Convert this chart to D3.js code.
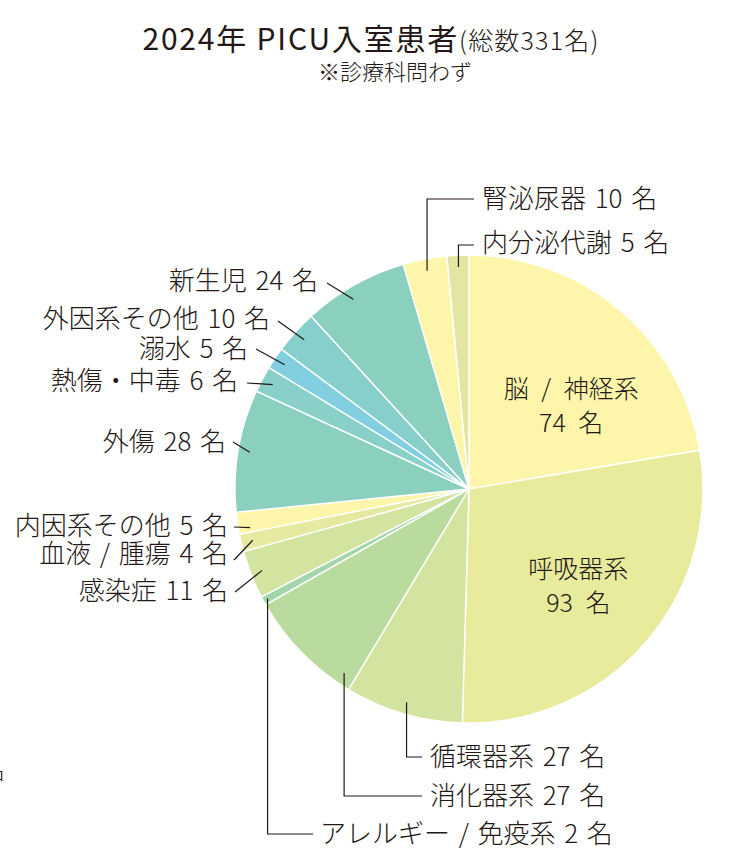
<!DOCTYPE html>
<html>
<head>
<meta charset="utf-8">
<script src="https://cdn.jsdelivr.net/npm/d3@7"></script>
<style>
  body { margin: 0; background: #fff; }
  svg text { font-family: "Noto Sans CJK JP", "Noto Sans", sans-serif; fill: #231815; white-space: pre; }
</style>
</head>
<body>
<div class="pie-chart-container"></div>
<script>
// data (clockwise from 12 o'clock)
const categories = ['脳 / 神経系', '呼吸器系', '循環器系', '消化器系', 'アレルギー / 免疫系', '感染症',
  '血液 / 腫瘍', '内因系その他', '外傷', '熱傷・中毒', '溺水', '外因系その他', '新生児', '腎泌尿器', '内分泌代謝'];
const patients = [74, 93, 27, 27, 2, 11, 4, 5, 28, 6, 5, 10, 24, 10, 5];
const sliceColors = ['#fdf6aa', '#e8eb9c', '#d3e4a0', '#b9dc9e', '#a3d5aa', '#d3e4a0', '#e6eaa0', '#fdf6aa',
  '#8bcfbf', '#88d0c8', '#82cfe2', '#86cfcb', '#8bcfbf', '#fdf6aa', '#e2e6a2'];
const insideLabels = ['脳 / 神経系', '呼吸器系'];

// label layout: text anchor point, and where the leader starts
const labelLayout = {
  '新生児':       {type: 'left', tx: 318, ty: 290, lx: 327, ly: 283, da: -2},
  '外因系その他': {type: 'left', tx: 270, ty: 328, lx: 278, ly: 321},
  '溺水':         {type: 'left', tx: 248, ty: 358, lx: 256, ly: 349},
  '熱傷・中毒':   {type: 'left', tx: 238, ty: 390, lx: 247, ly: 383},
  '外傷':         {type: 'left', tx: 226, ty: 451, lx: 233, ly: 442},
  '内因系その他': {type: 'left', tx: 228, ty: 535, lx: 234, ly: 527, da: -1.6},
  '血液 / 腫瘍':  {type: 'left', tx: 228, ty: 563, lx: 234, ly: 560},
  '感染症':       {type: 'left', tx: 228, ty: 600, lx: 235, ly: 592},
  '腎泌尿器':     {type: 'top', tx: 482, ty: 208, hy: 199, hx: 474},
  '内分泌代謝':   {type: 'top', tx: 482, ty: 252, hy: 245, hx: 474},
  '循環器系':     {type: 'bottom', tx: 430, ty: 766, hy: 757, hx: 422},
  '消化器系':     {type: 'bottom', tx: 430, ty: 805, hy: 796, hx: 422, da: -11.5},
  'アレルギー / 免疫系': {type: 'bottom', tx: 320, ty: 843, hy: 834, hx: 313, rf: 0.98}
};

const pieData = categories.map((c, i) => ({name: c, value: patients[i]}));
// wider spaces like the original typesetting
const spaced = (s, sp) => s.replace(/ /g, sp);

function setupCanvas(pieData) {
  const svg_width = 729;
  const svg_height = 868;
  const cx = 469, cy = 489, radius = 234;

  const svg = d3.select('.pie-chart-container').append('svg')
    .attr('width', svg_width).attr('height', svg_height);

  const color = d3.scaleOrdinal().domain(categories).range(sliceColors);
  const pie = d3.pie().value(d => d.value).sort(null);
  const arc = d3.arc().innerRadius(0).outerRadius(radius);
  const arcs = pie(pieData);

  const g = svg.append('g').attr('transform', `translate(${cx},${cy})`);

  g.selectAll('.slice')
    .data(arcs)
    .enter()
    .append('path')
    .attr('class', 'slice')
    .attr('d', arc)
    .style('fill', d => color(d.data.name))
    .style('stroke', '#fff')
    .style('stroke-width', 1.4);

  // point on the slice at its middle angle (plus tweak)
  function innerPoint(d, lay) {
    const a = (d.startAngle + d.endAngle) / 2 + (lay.da || 0) * Math.PI / 180;
    const r = radius * (lay.rf || 0.95);
    return [cx + Math.sin(a) * r, cy - Math.cos(a) * r];
  }

  // leaders + outside labels
  const outside = arcs.filter(d => labelLayout[d.data.name]);
  svg.selectAll('.leader')
    .data(outside)
    .enter()
    .append('path')
    .attr('class', 'leader')
    .attr('d', d => {
      const lay = labelLayout[d.data.name];
      const p = innerPoint(d, lay);
      if (lay.type === 'left') return `M${lay.lx},${lay.ly}L${p[0]},${p[1]}`;
      if (lay.type === 'top') return `M${lay.hx},${lay.hy}H${p[0]}V${p[1]}`;
      return `M${p[0]},${p[1]}V${lay.hy}H${lay.hx}`;
    })
    .style('fill', 'none')
    .style('stroke', '#231815')
    .style('stroke-width', 1.2);

  svg.selectAll('.out-label')
    .data(outside)
    .enter()
    .append('text')
    .attr('class', 'out-label')
    .attr('x', d => labelLayout[d.data.name].tx)
    .attr('y', d => labelLayout[d.data.name].ty)
    .attr('text-anchor', d => labelLayout[d.data.name].type === 'left' ? 'end' : 'start')
    .style('font-size', '26px')
    .style('font-weight', 300)
    .text(d => spaced(`${d.data.name} ${d.data.value} 名`, '\u2004'));

  // inside labels
  const insideShift = {'脳 / 神経系': 10, '呼吸器系': 0};
  const inside = svg.selectAll('.in-label')
    .data(arcs.filter(d => insideLabels.includes(d.data.name)))
    .enter()
    .append('text')
    .attr('class', 'in-label')
    .attr('text-anchor', 'middle')
    .style('font-size', '25px')
    .style('font-weight', 300)
    .attr('transform', d => {
      const a = (d.startAngle + d.endAngle) / 2 + insideShift[d.data.name] * Math.PI / 180;
      const r = d.data.name === '呼吸器系' ? 145 : 133;
      return `translate(${cx + Math.sin(a) * r},${cy - Math.cos(a) * r})`;
    });
  inside.append('tspan').attr('x', 0).attr('y', -6).text(d => spaced(d.data.name, '\u2002'));
  inside.append('tspan').attr('x', 0).attr('y', 28).text(d => spaced(`${d.data.value} 名`, '\u2002'));

  // header
  const total = d3.sum(patients);
  const header = svg.append('text')
    .attr('x', 371).attr('y', 50)
    .attr('text-anchor', 'middle');
  header.append('tspan').text('2024年 PICU入室患者').style('font-size', '30px').style('font-weight', 400)
    .style('letter-spacing', '1.8px');
  header.append('tspan').text(`(総数${total}名)`).style('font-size', '25px').style('font-weight', 300)
    .style('letter-spacing', '1.2px');

  svg.append('text')
    .attr('x', 395).attr('y', 80)
    .attr('text-anchor', 'middle')
    .style('font-size', '22px')
    .style('font-weight', 300)
    .text('※診療科問わず');

  // clipped glyph at the left edge
  svg.append('text')
    .attr('x', 5).attr('y', 779)
    .attr('text-anchor', 'end')
    .style('font-size', '24px')
    .style('font-weight', 300)
    .text('名');
}

setupCanvas(pieData);
</script>
</body>
</html>
